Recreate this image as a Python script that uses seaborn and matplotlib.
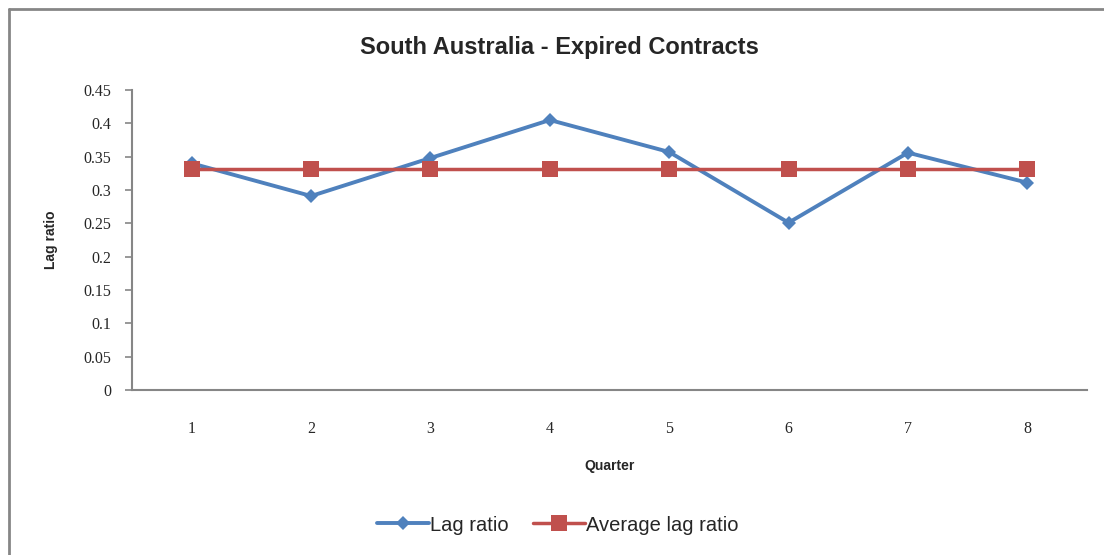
import matplotlib
matplotlib.use("Agg")
import matplotlib.pyplot as plt
import seaborn as sns
import pandas as pd

# values
quarters = [1, 2, 3, 4, 5, 6, 7, 8]
lag_ratio = [0.340, 0.291, 0.348, 0.405, 0.357, 0.251, 0.356, 0.311]
avg_lag_ratio = [0.332] * 8

df = pd.DataFrame({'Quarter': quarters, 'Lag ratio': lag_ratio,
                   'Average lag ratio': avg_lag_ratio})

sns.set_style('white')
plt.rcParams['font.family'] = ['Liberation Sans', 'DejaVu Sans']

fig = plt.figure(figsize=(11.04, 5.55), dpi=100)
ax = fig.add_axes([0.1196, 0.2973, 0.865, 0.5405])

sns.lineplot(data=df, x='Quarter', y='Lag ratio', ax=ax, color='#4F81BD',
             linewidth=2.8, marker='D', markersize=7, markeredgewidth=0,
             label='Lag ratio')
sns.lineplot(data=df, x='Quarter', y='Average lag ratio', ax=ax, color='#C0504D',
             linewidth=2.5, marker='s', markersize=11, markeredgewidth=0,
             label='Average lag ratio')

ax.set_xlim(0.5, 8.5)
ax.set_ylim(0, 0.45)
ax.set_xticks(quarters)
ax.set_xticklabels([str(q) for q in quarters], family='Liberation Serif', fontsize=11.5)
yt = [i * 0.05 for i in range(10)]
ax.set_yticks(yt)
ax.set_yticklabels(['0', '0.05', '0.1', '0.15', '0.2', '0.25', '0.3', '0.35', '0.4', '0.45'],
                   family='Liberation Serif', fontsize=11.5)
ax.tick_params(axis='y', length=5, width=1.2, color='#868686', left=True, pad=10)
ax.tick_params(axis='x', length=0, pad=22)

for s in ['top', 'right']:
    ax.spines[s].set_visible(False)
for s in ['left', 'bottom']:
    ax.spines[s].set_color('#868686')
    ax.spines[s].set_linewidth(1.5)

ax.set_xlabel('Quarter', fontsize=10, fontweight='bold', labelpad=16)
ax.set_ylabel('Lag ratio', fontsize=10, fontweight='bold', labelpad=18)
fig.suptitle('South Australia - Expired Contracts', x=0.507, y=0.935,
             fontsize=17, fontweight='bold')

ax.legend(loc='center', bbox_to_anchor=(0.505, 0.054), bbox_transform=fig.transFigure,
          ncol=2, frameon=False, fontsize=14.5, handlelength=2.6, handletextpad=0.05,
          columnspacing=1.2)

# outer chart frame (top and left visible in the crop)
fig.add_artist(plt.Line2D([0.008, 1.0], [0.984, 0.984], transform=fig.transFigure,
                          color='#868686', linewidth=2))
fig.add_artist(plt.Line2D([0.008, 0.008], [0.0, 0.984], transform=fig.transFigure,
                          color='#868686', linewidth=2))

fig.savefig('out.png', dpi=100)
